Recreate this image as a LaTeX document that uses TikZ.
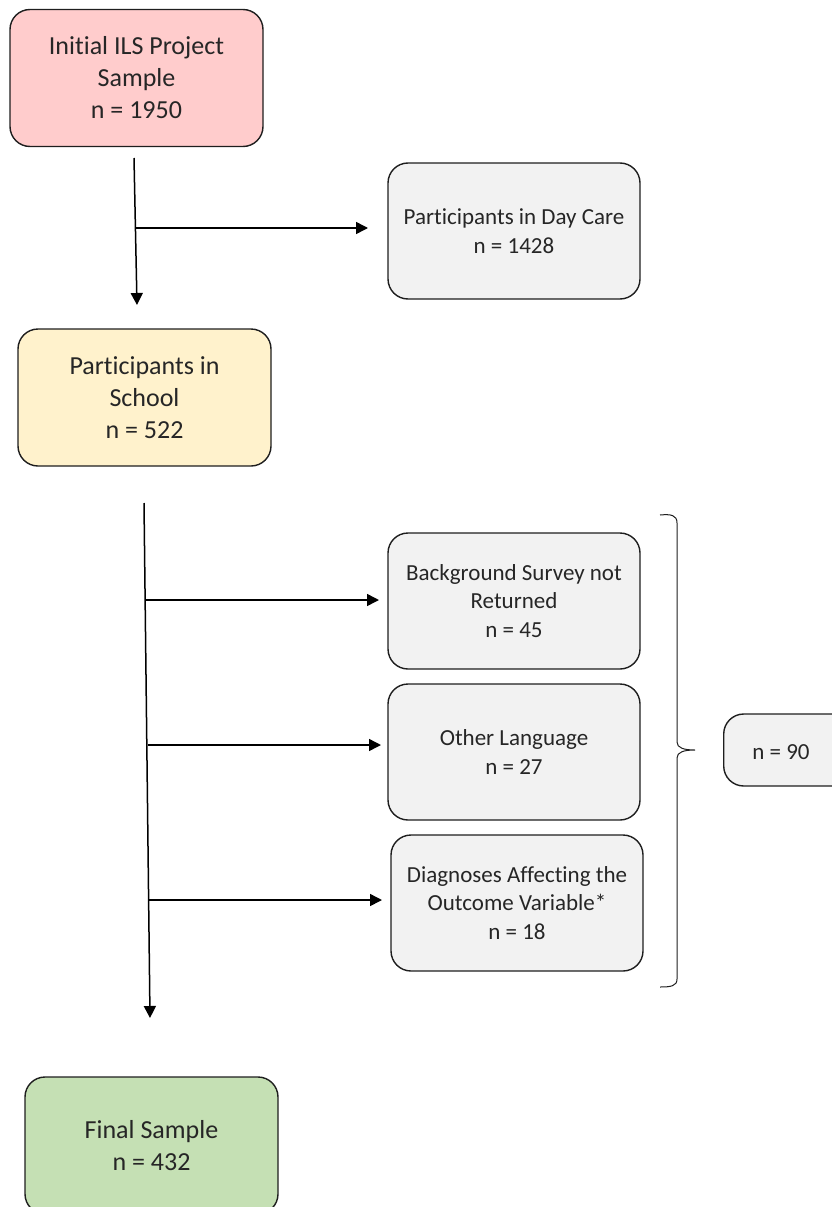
\documentclass[tikz,border=0pt]{standalone}
\usepackage{fontspec}
\setmainfont[Ligatures=NoCommon]{Carlito}
\usetikzlibrary{arrows.meta}
\definecolor{pinkfill}{HTML}{FFCCCC}
\definecolor{grayfill}{HTML}{F2F2F2}
\definecolor{yellowfill}{HTML}{FFF2CC}
\definecolor{greenfill}{HTML}{C5E0B4}
\definecolor{edge}{HTML}{1E1E1E}
\definecolor{txt}{HTML}{262626}
\tikzset{
  box/.style={draw=edge, line width=1.4pt, rounded corners=20pt, align=center, text=txt, inner sep=0pt},
  bigbox/.style={box, minimum width=253pt, minimum height=137pt, font=\fontsize{26}{32}\selectfont},
  smallbox/.style={box, fill=grayfill, minimum width=252pt, minimum height=136pt, font=\fontsize{23}{28.5}\selectfont},
  flow/.style={line width=1.5pt, draw=black, -{Triangle[length=12pt,width=12pt]}},
  bracepath/.style={line width=1pt, draw=edge},
}
\begin{document}
\begin{tikzpicture}[x=1pt,y=-1pt]
\useasboundingbox (0,0) rectangle (831,1207);
% boxes
\node[bigbox, fill=pinkfill] (init) at (136.5,78) {Initial ILS Project\\Sample\\n = 1950};
\node[smallbox] (day) at (514,231) {Participants in Day Care\\n = 1428};
\node[bigbox, fill=yellowfill] (school) at (144.5,397.5) {Participants in\\School\\n = 522};
\node[smallbox] (bg) at (514,601) {Background Survey not\\Returned\\n = 45};
\node[smallbox] (lang) at (514,752) {Other Language\\n = 27};
\node[smallbox] (diag) at (517,903) {Diagnoses Affecting the\\Outcome Variable*\\n = 18};
\node[box, fill=grayfill, minimum width=130pt, minimum height=72pt, anchor=west] (n90box) at (723,750) {};
\node[text=txt, font=\fontsize{23}{28.5}\selectfont, inner sep=0pt] (n90) at (781,752) {n = 90};
\node[bigbox, fill=greenfill] (final) at (151.5,1145.5) {Final Sample\\n = 432};
% trunk 1
\coordinate (t1a) at (134,158);
\coordinate (t1b) at (137,305);
\coordinate (b1) at (135.5,228);
\coordinate (e1) at (368,228);
\draw[flow] (t1a) -- (t1b);
\draw[flow] (b1) -- (e1);
% trunk 2
\coordinate (t2a) at (144,503);
\coordinate (t2b) at (150,1018);
\draw[flow] (t2a) -- (t2b);
\coordinate (b2) at (146,600);
\coordinate (e2) at (379,600);
\coordinate (b3) at (147.5,745);
\coordinate (e3) at (381,745);
\coordinate (b4) at (148.5,900);
\coordinate (e4) at (382,900);
\draw[flow] (b2) -- (e2);
\draw[flow] (b3) -- (e3);
\draw[flow] (b4) -- (e4);
% brace
\draw[bracepath] (660,515) .. controls (671,514) and (677,515) .. (677,523) -- (677,742)
  .. controls (677,748) and (684,750) .. (695,750)
  .. controls (684,750) and (677,752) .. (677,758) -- (677,979)
  .. controls (677,986) and (671,987) .. (660,987);
\end{tikzpicture}
\end{document}
